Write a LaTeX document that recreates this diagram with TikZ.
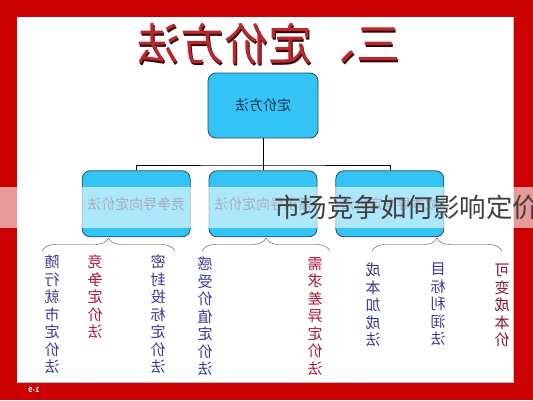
\documentclass[tikz,border=0pt]{standalone}
\usepackage{graphicx}
\usepackage{fontspec}
\setmainfont{Noto Sans CJK SC}
\usetikzlibrary{arrows,positioning,calc,decorations.pathreplacing}
\definecolor{frame}{RGB}{204,0,0}
\definecolor{boxfill}{RGB}{51,196,245}
\definecolor{boxline}{RGB}{40,75,95}
\definecolor{boxtxt}{RGB}{35,50,85}
\definecolor{blutxt}{RGB}{60,55,150}
\definecolor{redtxt}{RGB}{170,25,60}
\definecolor{titred}{RGB}{185,40,45}
\newcommand{\flip}[1]{\reflectbox{#1}}

\begin{document}
\begin{tikzpicture}[x=1pt,y=-1pt,
mirr/.style={xscale=-1},
box/.style={thick,draw=boxline,fill=boxfill,rounded corners=8pt,minimum width=108pt,minimum height=66pt,font=\fontsize{14}{14}\selectfont,text=boxtxt},
col/.style={mirr,align=center,anchor=north,inner sep=0pt,font=\fontsize{15}{17.5}\selectfont},
brc/.style={black!70,decoration={brace,amplitude=13pt},decorate}]

\useasboundingbox (0,0) rectangle (533,400);
\fill[frame] (0,0) rectangle (533,400);
\fill[white] (17,17) rectangle (513,382);
\draw[black!25,line width=0.6pt] (513,17) -- (513,382) -- (17,382);

\node[mirr,text=black!80!red,font=\fontsize{44}{44}\selectfont] (tsh) at (269.5,45.5) {三、定价方法};
\node[mirr,text=titred,font=\fontsize{44}{44}\selectfont] (title) at (268,44) {三、定价方法};

\node[box,minimum width=110pt,minimum height=65pt] (top) at (263,105.5) {\flip{定价方法}};
\node[box,below=32pt of top] (b2) {\flip{需求导向定价法}};
\node[box,left=18pt of b2] (b1) {\flip{竞争导向定价法}};
\node[box,right=18pt of b2] (b3) {\flip{成本导向定价法}};

\coordinate (hub) at (top.south |- 0,165);
\draw (top.south) -- (b2.north);
\draw (b1.north) |- (hub) -| (b3.north);

\coordinate (l1) at (42,251);
\coordinate (r1) at (175,251);
\coordinate (l2) at (202,251);
\coordinate (r2) at (330,251);
\coordinate (l3) at (372,251);
\coordinate (r3) at (502,251);
\draw[brc] (l1) -- (r1);
\draw[brc] (l2) -- (r2);
\draw[brc] (l3) -- (r3);

\node[col,text=blutxt] (c1) at (52,255) {随\\行\\就\\市\\定\\价\\法};
\node[col,text=redtxt] (c2) at (95,255) {竞\\争\\定\\价\\法};
\node[col,text=blutxt] (c3) at (158,255) {密\\封\\投\\标\\定\\价\\法};
\node[col,text=blutxt] (c4) at (205,257) {感\\受\\价\\值\\定\\价\\法};
\node[col,text=redtxt] (c5) at (315,257) {需\\求\\差\\异\\定\\价\\法};
\node[col,text=blutxt] (c6) at (373,263) {成\\本\\加\\成\\法};
\node[col,text=blutxt] (c7) at (438,263) {目\\标\\利\\润\\法};
\node[col,text=redtxt!80!black] (c8) at (502,264) {可\\变\\成\\本\\价};

\node[mirr,text=white,font=\fontsize{7}{7}\selectfont\bfseries] (pg) at (34,390) {1-9};

\fill[white,opacity=0.6] (0,187) rectangle (533,228);
\node[anchor=west,inner sep=0pt,text=black!75,font=\fontsize{26.5}{26.5}\selectfont] (wm) at (274,207.5) {市场竞争如何影响定价};
\end{tikzpicture}
\end{document}
